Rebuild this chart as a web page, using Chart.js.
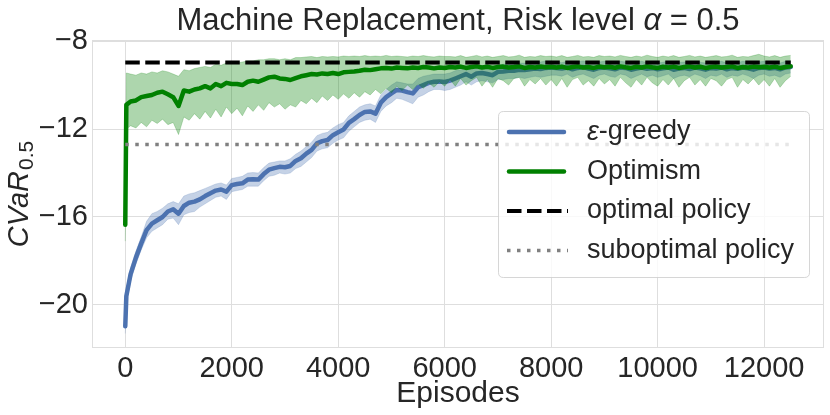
<!DOCTYPE html>
<html><head><meta charset="utf-8">
<script src="https://cdn.jsdelivr.net/npm/chart.js@4.4.1/dist/chart.umd.min.js"></script>
<style>html,body{margin:0;padding:0;background:#fff;}#wrap{width:830px;height:415px;position:relative;}</style>
</head><body><div id="wrap"><canvas id="c"></canvas></div>
<script>
// ---------- text ----------
const titleMain = 'Machine Replacement, Risk level ';
const titleSym = 'α';
const titleTail = ' = 0.5';
const xTitle = 'Episodes';
const yTitleMain = 'CVaR';
const yTitleSub = '0.5';
const labelGreedy = 'ε-greedy';
const labelOpt = 'Optimism';
const labelOptimal = 'optimal policy';
const labelSubopt = 'suboptimal policy';

// ---------- ticks ----------
const xTicks = [0, 2000, 4000, 6000, 8000, 10000, 12000];
const yTicks = [-20, -16, -12, -8];

// ---------- data ----------
const episodes = [0, 20];
for (let e = 100; e <= 12500; e += 100) episodes.push(e);

const optimalValue = -8.97;
const suboptimalValue = -12.7;

const greedyMean = [-20.97, -19.6,
 -18.6, -17.85, -17.2, -16.6, -16.3, -16.15, -16.0, -15.75, -15.65, -15.85,
 -15.5, -15.35, -15.3, -15.2, -15.05, -14.92, -14.8, -14.75, -14.85, -14.55,
 -14.5, -14.47, -14.3, -14.28, -14.3, -14.05, -13.85, -13.78, -13.72, -13.74,
 -13.68, -13.45, -13.33, -13.12, -12.95, -12.65, -12.55, -12.5, -12.28, -12.15,
 -12.02, -11.72, -11.55, -11.36, -11.22, -11.2, -11.3, -10.8, -10.55, -10.38,
 -10.22, -10.25, -10.32, -10.38, -10.1, -10.0, -9.9, -9.85, -9.84, -9.86,
 -9.8, -9.7, -9.6, -9.5, -9.62, -9.47, -9.45, -9.5, -9.55, -9.4,
 -9.38, -9.35, -9.35, -9.3, -9.32, -9.28, -9.25, -9.27, -9.22, -9.2,
 -9.22, -9.25, -9.2, -9.28, -9.22, -9.18, -9.25, -9.3, -9.22, -9.2,
 -9.24, -9.28, -9.2, -9.22, -9.3, -9.25, -9.2, -9.26, -9.22, -9.28,
 -9.24, -9.2, -9.3, -9.25, -9.22, -9.27, -9.2, -9.24, -9.3, -9.22,
 -9.25, -9.2, -9.28, -9.22, -9.26, -9.2, -9.24, -9.3, -9.22, -9.2,
 -9.25, -9.22, -9.28, -9.2, -9.18];
const greedyLow = [-21.3, -19.9,
 -18.9, -18.15, -17.5, -16.95, -16.65, -16.5, -16.35, -16.1, -16.05, -16.35,
 -15.9, -15.8, -15.75, -15.55, -15.4, -15.25, -15.1, -15.05, -15.2, -14.85,
 -14.8, -14.75, -14.6, -14.6, -14.6, -14.35, -14.15, -14.1, -14.0, -14.05,
 -14.0, -13.8, -13.7, -13.5, -13.3, -13.0, -12.9, -12.85, -12.65, -12.5,
 -12.4, -12.1, -11.9, -11.7, -11.6, -11.55, -11.7, -11.2, -10.95, -10.8,
 -10.6, -10.65, -10.75, -10.85, -10.55, -10.45, -10.3, -10.2, -10.2, -10.25,
 -10.2, -10.1, -10.0, -9.85, -10.0, -9.85, -9.8, -9.85, -9.9, -9.75,
 -9.75, -9.7, -9.7, -9.65, -9.7, -9.65, -9.6, -9.65, -9.6, -9.55,
 -9.55, -9.6, -9.5, -9.65, -9.55, -9.5, -9.6, -9.7, -9.55, -9.5,
 -9.6, -9.65, -9.5, -9.55, -9.7, -9.6, -9.5, -9.62, -9.55, -9.65,
 -9.58, -9.5, -9.7, -9.6, -9.55, -9.62, -9.5, -9.58, -9.7, -9.55,
 -9.6, -9.5, -9.65, -9.55, -9.6, -9.5, -9.58, -9.7, -9.55, -9.5,
 -9.6, -9.55, -9.65, -9.5, -9.45];
const greedyHigh = [-20.65, -19.3,
 -18.3, -17.55, -16.9, -16.2, -15.85, -15.75, -15.6, -15.4, -15.3, -15.4,
 -15.05, -14.95, -14.9, -14.8, -14.7, -14.6, -14.5, -14.45, -14.55, -14.25,
 -14.2, -14.15, -14.0, -13.98, -14.0, -13.75, -13.55, -13.5, -13.45, -13.45,
 -13.35, -13.15, -13.0, -12.8, -12.6, -12.3, -12.2, -12.15, -11.95, -11.8,
 -11.7, -11.4, -11.2, -11.0, -10.9, -10.85, -10.95, -10.45, -10.2, -10.0,
 -9.85, -9.9, -9.95, -9.95, -9.7, -9.6, -9.55, -9.5, -9.5, -9.5,
 -9.45, -9.35, -9.3, -9.2, -9.3, -9.15, -9.15, -9.2, -9.25, -9.1,
 -9.05, -9.05, -9.05, -9.0, -9.0, -8.95, -8.95, -8.95, -8.9, -8.9,
 -8.95, -8.98, -8.92, -9.0, -8.95, -8.9, -8.97, -9.0, -8.95, -8.92,
 -8.96, -9.0, -8.92, -8.95, -9.0, -8.97, -8.92, -8.98, -8.95, -9.0,
 -8.96, -8.92, -9.0, -8.97, -8.95, -8.98, -8.92, -8.96, -9.0, -8.95,
 -8.97, -8.92, -9.0, -8.95, -8.98, -8.92, -8.96, -9.0, -8.95, -8.92,
 -8.97, -8.95, -9.0, -8.92, -8.9];

const optMean = [-16.35, -10.9,
 -10.75, -10.7, -10.55, -10.5, -10.45, -10.35, -10.3, -10.42, -10.55, -10.95,
 -10.25, -10.3, -10.2, -10.15, -10.05, -10.15, -9.95, -10.05, -9.9, -9.95,
 -9.95, -10.0, -9.85, -9.8, -9.85, -9.75, -9.65, -9.62, -9.7, -9.72,
 -9.77, -9.68, -9.6, -9.55, -9.5, -9.52, -9.47, -9.5, -9.45, -9.5,
 -9.42, -9.4, -9.38, -9.35, -9.3, -9.32, -9.28, -9.24, -9.22, -9.25,
 -9.2, -9.22, -9.24, -9.2, -9.22, -9.18, -9.2, -9.24, -9.2, -9.22,
 -9.18, -9.2, -9.16, -9.22, -9.18, -9.15, -9.2, -9.17, -9.22, -9.18,
 -9.16, -9.2, -9.18, -9.15, -9.22, -9.18, -9.2, -9.16, -9.19, -9.17,
 -9.2, -9.16, -9.22, -9.18, -9.15, -9.2, -9.18, -9.22, -9.16, -9.19,
 -9.17, -9.21, -9.15, -9.19, -9.22, -9.17, -9.2, -9.15, -9.19, -9.22,
 -9.17, -9.2, -9.16, -9.22, -9.18, -9.15, -9.2, -9.17, -9.22, -9.18,
 -9.16, -9.2, -9.18, -9.15, -9.22, -9.18, -9.2, -9.16, -9.19, -9.17,
 -9.2, -9.16, -9.22, -9.18, -9.15];
const optLow = [-17.1, -12.0,
 -11.85, -11.95, -11.7, -11.9, -11.6, -11.75, -11.55, -11.8, -11.7, -12.25,
 -11.45, -11.6, -11.3, -11.55, -11.2, -11.5, -11.1, -11.45, -11.0, -11.3,
 -11.05, -11.4, -10.95, -11.2, -10.9, -11.15, -10.8, -11.0, -10.85, -11.1,
 -10.9, -11.0, -10.7, -10.85, -10.6, -10.8, -10.5, -10.7, -10.45, -10.65,
 -10.4, -10.6, -10.35, -10.55, -10.3, -10.45, -10.2, -10.4, -10.15, -10.35,
 -10.05, -10.25, -10.0, -10.2, -9.95, -10.15, -9.9, -10.1, -9.85, -10.05,
 -9.75, -10.05, -9.7, -10.0, -9.8, -9.65, -10.05, -9.75, -10.1, -9.7,
 -9.8, -10.0, -9.7, -9.65, -10.05, -9.75, -9.95, -9.7, -10.0, -9.75,
 -10.05, -9.7, -10.1, -9.75, -9.65, -10.0, -9.8, -10.05, -9.7, -9.95,
 -9.75, -10.05, -9.65, -9.9, -10.1, -9.75, -10.0, -9.65, -9.9, -10.05,
 -9.75, -10.0, -9.7, -10.1, -9.8, -9.65, -10.0, -9.75, -10.05, -9.7,
 -9.8, -10.05, -9.75, -9.65, -10.1, -9.75, -9.95, -9.7, -10.0, -9.75,
 -10.05, -9.7, -10.1, -9.8, -9.6];
const optHigh = [-15.6, -9.45,
 -9.5, -9.55, -9.45, -9.5, -9.4, -9.45, -9.35, -9.4, -9.5, -9.6,
 -9.3, -9.35, -9.25, -9.2, -9.15, -9.2, -9.05, -9.1, -9.0, -8.95,
 -9.0, -8.95, -8.9, -8.9, -8.85, -8.85, -8.8, -8.8, -8.85, -8.8,
 -8.85, -8.75, -8.75, -8.72, -8.7, -8.75, -8.7, -8.72, -8.7, -8.72,
 -8.68, -8.7, -8.68, -8.7, -8.66, -8.7, -8.68, -8.7, -8.65, -8.7,
 -8.68, -8.7, -8.72, -8.68, -8.7, -8.66, -8.7, -8.72, -8.68, -8.7,
 -8.7, -8.72, -8.66, -8.74, -8.7, -8.65, -8.72, -8.68, -8.74, -8.7,
 -8.66, -8.72, -8.7, -8.64, -8.74, -8.7, -8.72, -8.66, -8.7, -8.68,
 -8.72, -8.66, -8.74, -8.7, -8.65, -8.72, -8.7, -8.74, -8.66, -8.7,
 -8.68, -8.72, -8.65, -8.7, -8.74, -8.68, -8.72, -8.64, -8.7, -8.74,
 -8.68, -8.72, -8.66, -8.74, -8.7, -8.65, -8.72, -8.68, -8.74, -8.7,
 -8.66, -8.72, -8.7, -8.64, -8.74, -8.7, -8.72, -8.66, -8.6, -8.68,
 -8.72, -8.66, -8.74, -8.68, -8.65];

// ---------- styling ----------
const FONT = "'Liberation Sans', Arial, sans-serif";
const TXT = '#262626';
const GRID = '#dedede';
const BLUE = '#4C72B0';
const GREEN = '#008000';

function pts(ys) { return episodes.map((x, i) => ({ x: x, y: ys[i] })); }
const first = episodes[0], last = episodes[episodes.length - 1];

const datasets = [
  { label: labelOptimal, data: [{ x: first, y: optimalValue }, { x: last, y: optimalValue }],
    borderColor: '#000000', borderWidth: 4, borderDash: [14.5, 5.5], order: 0 },
  { label: labelSubopt, data: [{ x: first, y: suboptimalValue }, { x: last, y: suboptimalValue }],
    borderColor: '#808080', borderWidth: 3.5, borderDash: [3.5, 6.5], order: 1 },
  { label: labelOpt, data: pts(optMean), borderColor: GREEN, borderWidth: 4.5, order: 2,
    borderJoinStyle: 'round', borderCapStyle: 'round' },
  { label: '_optHigh', data: pts(optHigh), borderColor: 'rgba(0,128,0,0.22)', borderWidth: 1,
    backgroundColor: 'rgba(0,128,0,0.32)', fill: 4, order: 3 },
  { label: '_optLow', data: pts(optLow), borderColor: 'rgba(0,128,0,0.22)', borderWidth: 1, fill: false, order: 3 },
  { label: labelGreedy, data: pts(greedyMean), borderColor: BLUE, borderWidth: 4.5, order: 4,
    borderJoinStyle: 'round', borderCapStyle: 'round' },
  { label: '_greedyHigh', data: pts(greedyHigh), borderColor: 'rgba(76,114,176,0.2)', borderWidth: 1,
    backgroundColor: 'rgba(76,114,176,0.32)', fill: 7, order: 5 },
  { label: '_greedyLow', data: pts(greedyLow), borderColor: 'rgba(76,114,176,0.2)', borderWidth: 1, fill: false, order: 5 }
];

const framePlugin = {
  id: 'frame',
  beforeDatasetsDraw(chart) {
    const { ctx, chartArea: a } = chart;
    ctx.save();
    ctx.strokeStyle = GRID; ctx.lineWidth = 1;
    ctx.strokeRect(Math.round(a.left) + 0.5, Math.round(a.top) + 0.5, Math.round(a.right - a.left) - 1, Math.round(a.bottom - a.top) - 1);
    ctx.restore();
  }
};

const textPlugin = {
  id: 'texts',
  afterDraw(chart) {
    const { ctx, chartArea: a } = chart;
    ctx.save();
    ctx.fillStyle = TXT;
    // main title
    const fs = 31;
    const fN = fs + 'px ' + FONT, fI = 'italic ' + fs + 'px ' + FONT;
    ctx.font = fN; const w1 = ctx.measureText(titleMain).width, w3 = ctx.measureText(titleTail).width;
    ctx.font = fI; const w2 = ctx.measureText(titleSym).width;
    let x = (a.left + a.right) / 2 - (w1 + w2 + w3) / 2;
    const by = 30;
    ctx.textBaseline = 'alphabetic'; ctx.textAlign = 'left';
    ctx.font = fN; ctx.fillText(titleMain, x, by); x += w1;
    ctx.font = fI; ctx.fillText(titleSym, x, by); x += w2;
    ctx.font = fN; ctx.fillText(titleTail, x, by);
    // y title
    const ym = 'italic 29px ' + FONT, ys = '21px ' + FONT;
    ctx.font = ym; const m1 = ctx.measureText(yTitleMain).width;
    ctx.font = ys; const m2 = ctx.measureText(yTitleSub).width;
    const tot = m1 + 1 + m2;
    ctx.translate(28, (a.top + a.bottom) / 2);
    ctx.rotate(-Math.PI / 2);
    ctx.font = ym; ctx.fillText(yTitleMain, -tot / 2, 0);
    ctx.font = ys; ctx.fillText(yTitleSub, -tot / 2 + m1 + 1, 5);
    ctx.restore();
  }
};

const legendPlugin = {
  id: 'customLegend',
  afterDraw(chart) {
    const ctx = chart.ctx;
    const order = [labelGreedy, labelOpt, labelOptimal, labelSubopt];
    const items = order.map(l => chart.data.datasets.find(d => d.label === l));
    const bx = 498.5, by = 111.5, bw = 311, bh = 166, r = 5;
    ctx.save();
    ctx.beginPath();
    ctx.moveTo(bx + r, by); ctx.lineTo(bx + bw - r, by); ctx.quadraticCurveTo(bx + bw, by, bx + bw, by + r);
    ctx.lineTo(bx + bw, by + bh - r); ctx.quadraticCurveTo(bx + bw, by + bh, bx + bw - r, by + bh);
    ctx.lineTo(bx + r, by + bh); ctx.quadraticCurveTo(bx, by + bh, bx, by + bh - r);
    ctx.lineTo(bx, by + r); ctx.quadraticCurveTo(bx, by, bx + r, by);
    ctx.closePath();
    ctx.fillStyle = 'rgba(255,255,255,0.8)'; ctx.fill();
    ctx.strokeStyle = 'rgba(204,204,204,0.8)'; ctx.lineWidth = 1; ctx.stroke();
    items.forEach((d, i) => {
      const cy = 132 + i * 39.5;
      ctx.save();
      ctx.beginPath();
      ctx.strokeStyle = d.borderColor;
      ctx.lineWidth = d.borderWidth;
      ctx.setLineDash(d.borderDash || []);
      ctx.lineCap = d.borderDash ? 'butt' : 'round';
      ctx.moveTo(d.borderDash ? 507 : 509, cy); ctx.lineTo(d.borderDash ? 568 : 564, cy);
      ctx.stroke();
      ctx.restore();
      ctx.fillStyle = TXT; ctx.textBaseline = 'middle'; ctx.textAlign = 'left';
      let tx = 587;
      let label = d.label;
      if (label.charAt(0) === 'ε') {
        ctx.font = 'italic 27px ' + FONT; ctx.fillText('ε', tx, cy);
        tx += ctx.measureText('ε').width; label = label.slice(1);
      }
      ctx.font = '27px ' + FONT; ctx.fillText(label, tx, cy);
    });
    ctx.restore();
  }
};

new Chart(document.getElementById('c'), {
  type: 'line',
  data: { datasets: datasets },
  options: {
    responsive: true, maintainAspectRatio: false, animation: false,
    parsing: true,
    elements: { point: { radius: 0, hoverRadius: 0 }, line: { tension: 0 } },
    layout: { padding: { top: 40, right: 6, left: 0, bottom: 0 } },
    plugins: { legend: { display: false }, tooltip: { enabled: false }, title: { display: false } },
    scales: {
      x: {
        type: 'linear', min: -625, max: 13125,
        afterBuildTicks: s => { s.ticks = xTicks.map(v => ({ value: v })); },
        afterFit: s => { s.height = 67; },
        ticks: { font: { family: FONT, size: 29 }, color: TXT, padding: 4, maxRotation: 0, autoSkip: false,
                 callback: v => String(v) },
        grid: { color: GRID, lineWidth: 1, drawTicks: false },
        border: { display: false },
        title: { display: true, text: xTitle, font: { family: FONT, size: 30 }, color: TXT, padding: { top: 0, bottom: 3 } }
      },
      y: {
        type: 'linear', min: -21.96, max: -7.95,
        afterBuildTicks: s => { s.ticks = yTicks.map(v => ({ value: v })); },
        afterFit: s => { s.width = 92; },
        ticks: { font: { family: FONT, size: 29 }, color: TXT, padding: 4, autoSkip: false,
                 callback: v => String(v).replace('-', '\u2212') },
        grid: { color: GRID, lineWidth: 1, drawTicks: false },
        border: { display: false }
      }
    }
  },
  plugins: [framePlugin, textPlugin, legendPlugin]
});
</script>
</body></html>
